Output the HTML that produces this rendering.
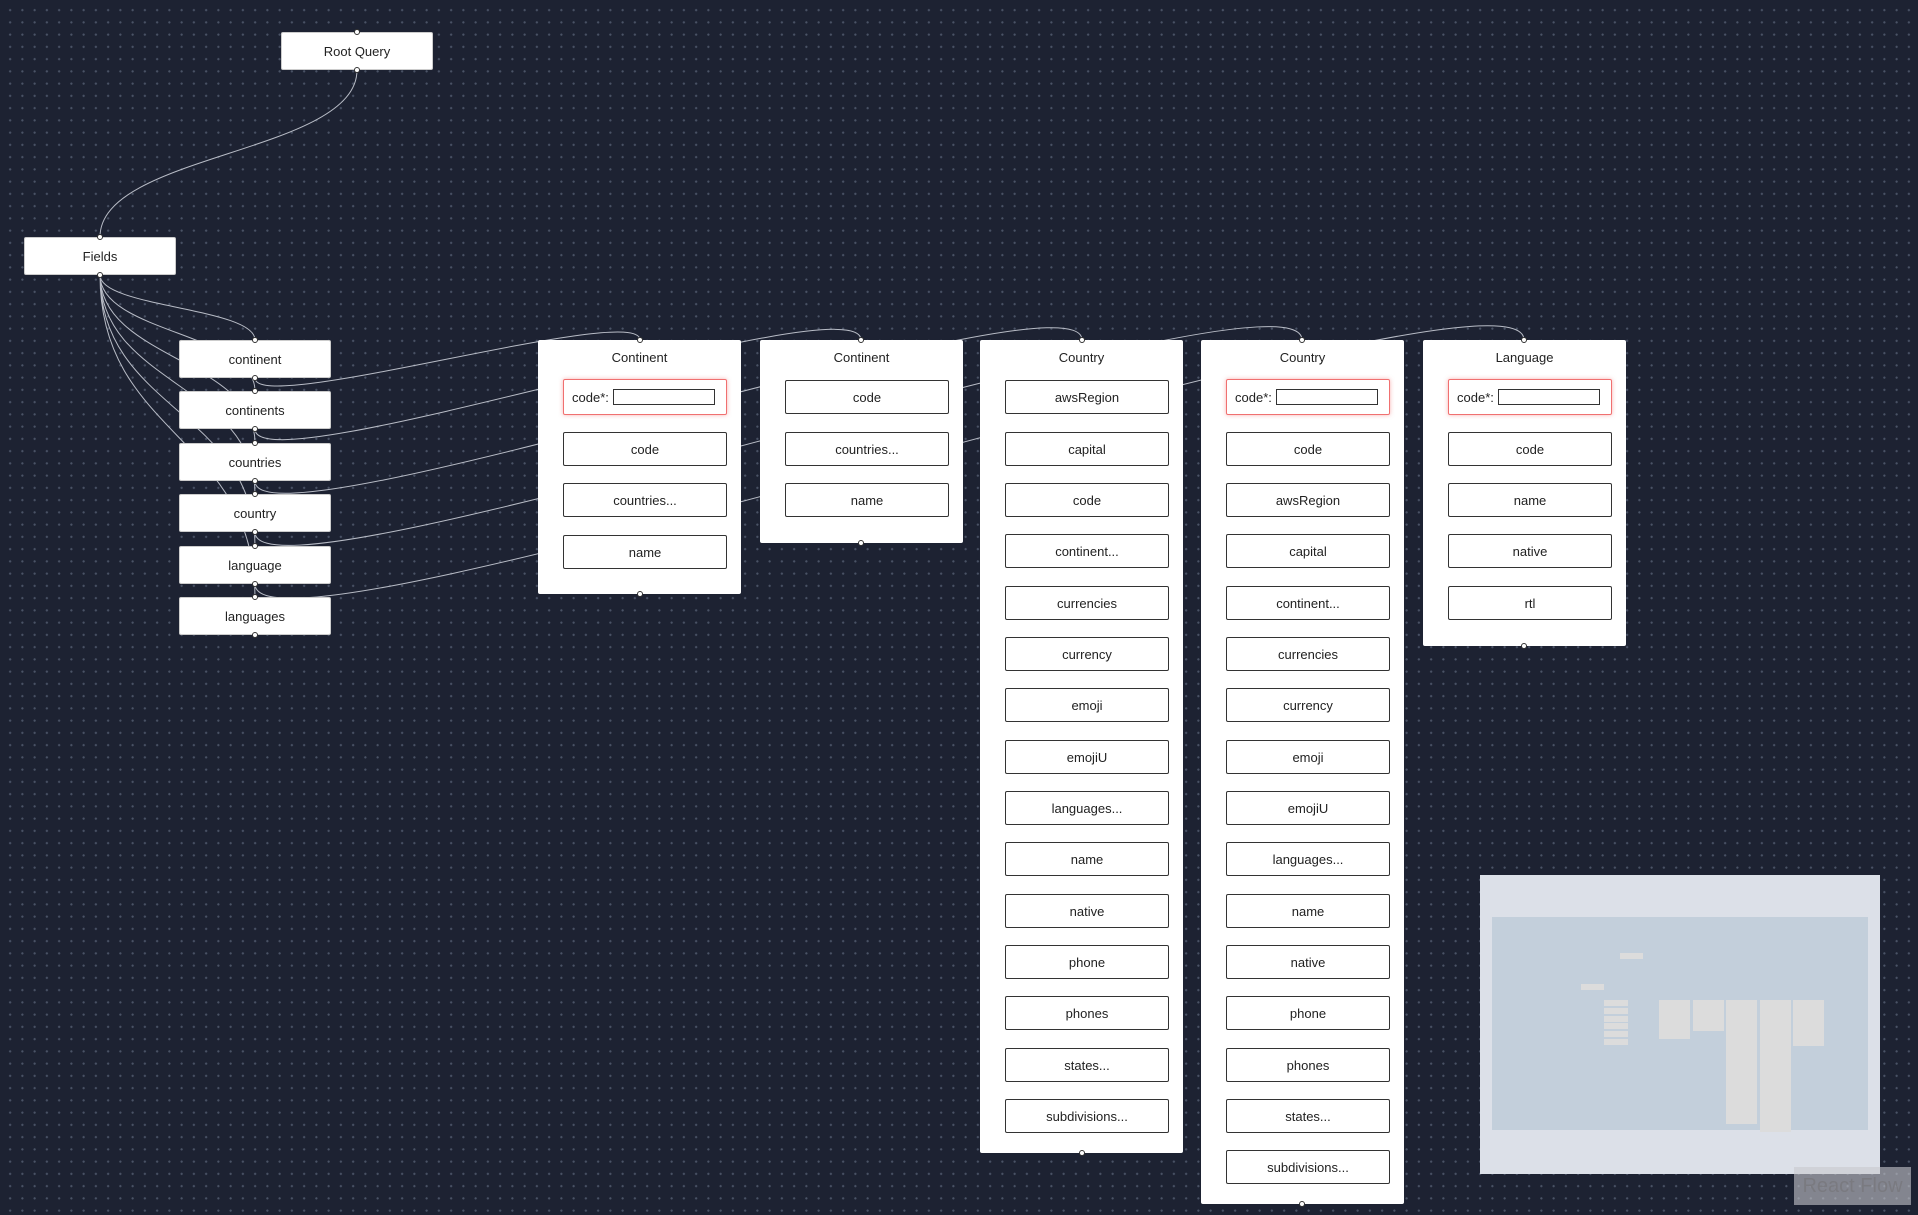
<!DOCTYPE html>
<html><head><meta charset="utf-8"><style>
html,body{margin:0;padding:0;}
body{width:1918px;height:1215px;position:relative;overflow:hidden;background:#1d2232;
background-image:radial-gradient(circle,#4a5366 1px,transparent 1.2px);background-size:12.25px 12.25px;background-position:4px 4px;
font-family:"Liberation Sans",sans-serif;color:#222;}
.n{position:absolute;background:#fff;border:1px solid #ccc;border-radius:2px;box-sizing:border-box;display:flex;align-items:center;justify-content:center;font-size:13px;}
.p{position:absolute;background:#fff;border-radius:2px;box-sizing:border-box;width:203px;}
.p .t{position:absolute;top:10px;left:0;right:0;text-align:center;font-size:13px;}
.p .i{position:absolute;left:25px;width:164px;height:34px;box-sizing:border-box;border:1.5px solid #333;border-radius:2px;display:flex;align-items:center;justify-content:center;font-size:13px;}
.p .r{position:absolute;left:25px;width:164px;height:36px;box-sizing:border-box;border:1.5px solid #f07070;box-shadow:0 0 4px rgba(240,100,100,.5);border-radius:2px;display:flex;align-items:center;font-size:13px;padding-left:8px;}
.p .r span{display:inline-block;width:102px;height:16px;border:1.5px solid #333;margin-left:4px;box-sizing:border-box;}
svg{position:absolute;left:0;top:0;}
</style></head><body>
<svg width="1918" height="1215" id="e"></svg>
<div class="n" style="left:281px;top:32px;width:152px;height:38px">Root Query</div>
<div class="n" style="left:24px;top:237px;width:152px;height:38px">Fields</div>
<div class="n" style="left:179px;top:340px;width:152px;height:38px">continent</div>
<div class="n" style="left:179px;top:391px;width:152px;height:38px">continents</div>
<div class="n" style="left:179px;top:443px;width:152px;height:38px">countries</div>
<div class="n" style="left:179px;top:494px;width:152px;height:38px">country</div>
<div class="n" style="left:179px;top:546px;width:152px;height:38px">language</div>
<div class="n" style="left:179px;top:597px;width:152px;height:38px">languages</div>

<div class="p" style="left:538px;top:340px;height:254px"><div class="t">Continent</div>
<div class="r" style="top:39px">code*:<span></span></div>
<div class="i" style="top:92px">code</div><div class="i" style="top:143px">countries...</div><div class="i" style="top:195px">name</div></div>

<div class="p" style="left:760px;top:340px;height:203px"><div class="t">Continent</div>
<div class="i" style="top:40px">code</div><div class="i" style="top:92px">countries...</div><div class="i" style="top:143px">name</div></div>

<div class="p" style="left:980px;top:340px;height:813px"><div class="t">Country</div>
<div class="i" style="top:40px">awsRegion</div><div class="i" style="top:92px">capital</div><div class="i" style="top:143px">code</div><div class="i" style="top:194px">continent...</div><div class="i" style="top:246px">currencies</div><div class="i" style="top:297px">currency</div><div class="i" style="top:348px">emoji</div><div class="i" style="top:400px">emojiU</div><div class="i" style="top:451px">languages...</div><div class="i" style="top:502px">name</div><div class="i" style="top:554px">native</div><div class="i" style="top:605px">phone</div><div class="i" style="top:656px">phones</div><div class="i" style="top:708px">states...</div><div class="i" style="top:759px">subdivisions...</div></div>

<div class="p" style="left:1201px;top:340px;height:864px"><div class="t">Country</div>
<div class="r" style="top:39px">code*:<span></span></div>
<div class="i" style="top:92px">code</div><div class="i" style="top:143px">awsRegion</div><div class="i" style="top:194px">capital</div><div class="i" style="top:246px">continent...</div><div class="i" style="top:297px">currencies</div><div class="i" style="top:348px">currency</div><div class="i" style="top:400px">emoji</div><div class="i" style="top:451px">emojiU</div><div class="i" style="top:502px">languages...</div><div class="i" style="top:554px">name</div><div class="i" style="top:605px">native</div><div class="i" style="top:656px">phone</div><div class="i" style="top:708px">phones</div><div class="i" style="top:759px">states...</div><div class="i" style="top:810px">subdivisions...</div></div>

<div class="p" style="left:1423px;top:340px;height:306px"><div class="t">Language</div>
<div class="r" style="top:39px">code*:<span></span></div>
<div class="i" style="top:92px">code</div><div class="i" style="top:143px">name</div><div class="i" style="top:194px">native</div><div class="i" style="top:246px">rtl</div></div>

<svg width="1918" height="1215" id="h"></svg>

<div style="position:absolute;left:1480px;top:875px;width:400px;height:299px;background:#dce0e8"></div>
<div style="position:absolute;left:1492px;top:917px;width:376px;height:213px;background:#c3cfdb"></div>
<svg width="1918" height="1215" style="pointer-events:none">
<g fill="#dcdcdc">
<rect x="1620" y="953" width="23" height="6"/><rect x="1581" y="984" width="23" height="6"/>
<rect x="1604" y="1000" width="24" height="6"/><rect x="1604" y="1008" width="24" height="6"/><rect x="1604" y="1016" width="24" height="6"/><rect x="1604" y="1023" width="24" height="6"/><rect x="1604" y="1031" width="24" height="6"/><rect x="1604" y="1039" width="24" height="6"/>
<rect x="1659" y="1000" width="31" height="39"/><rect x="1693" y="1000" width="31" height="31"/><rect x="1726" y="1000" width="31" height="124"/><rect x="1760" y="1000" width="31" height="132"/><rect x="1793" y="1000" width="31" height="46"/>
</g></svg>
<div style="position:absolute;left:1794px;top:1167px;width:117px;height:38px;background:rgba(200,200,205,.6);color:#7a7a80;font-size:20px;display:flex;align-items:center;justify-content:center">React Flow</div>
<script>
var s=document.getElementById('e'),d='';
function bz(sx,sy,tx,ty){var dy=ty-sy,o=dy>=0?0.5*dy:0.25*25*Math.sqrt(-dy);
d+='M'+sx+','+sy+' C'+sx+','+(sy+o)+' '+tx+','+(ty-o)+' '+tx+','+ty+' ';}
bz(357,70,100,237);
var tops=[340,391,443,494,546,597];
tops.forEach(function(t){bz(100,275,255,t);});
var tg=[640,861,1082,1302,1524];
tg.forEach(function(x,i){bz(255,tops[i]+38,x,340);});
s.innerHTML='<path d="'+d+'" fill="none" stroke="#b8bcc6" stroke-width="1"/>';
var h='',pts=[[357,32],[357,70],[100,237],[100,275],[640,340],[640,594],[861,340],[861,543],[1082,340],[1082,1153],[1302,340],[1302,1204],[1524,340],[1524,646]];
tops.forEach(function(t){pts.push([255,t]);pts.push([255,t+38]);});
pts.forEach(function(p){h+='<circle cx="'+p[0]+'" cy="'+p[1]+'" r="2.5" fill="#fff" stroke="#333" stroke-width="1"/>';});
document.getElementById('h').innerHTML=h;
</script>
</body></html>
